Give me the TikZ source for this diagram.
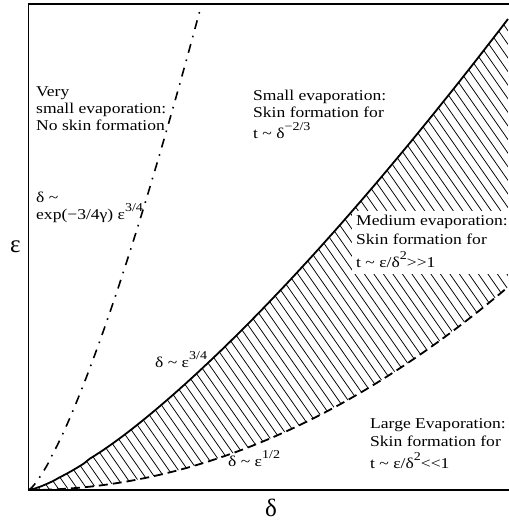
\documentclass[tikz,border=0pt]{standalone}
\usepackage{fontspec}
\setmainfont{Liberation Serif}
\usepackage{graphicx}
\newcommand\wx[1]{\scalebox{1.17}[1]{#1}}
\newcommand\sps[1]{\raisebox{0.55em}{\fontsize{12}{12}\selectfont #1}}
\begin{document}
\begin{tikzpicture}[x=1pt,y=1pt,
  lab/.style={anchor=base west, inner sep=0pt, font=\fontsize{15}{17}\selectfont},
  axlab/.style={anchor=base west, inner sep=0pt, font=\fontsize{25}{27}\selectfont},
  curve/.style={line width=1.8pt},
  hatchline/.style={line width=0.75pt}]
\useasboundingbox (0,0) rectangle (508,524);
% hatched band
\begin{scope}
\clip plot[domain=0.5:479.5, samples=80] ({28.5+\x},{34+471*(\x/479.5)^(4/3)})
  -- (508,237)
  -- plot[domain=479.5:0.5, samples=80] ({28.5+\x},{34+203*(\x/479.5)^2}) -- cycle;
\foreach \c in {-340,-330.5,...,510} \draw[hatchline] (\c,524) -- ++(366,-524);
\end{scope}
\fill[white] (352,250) rectangle (510,313);
% curves
\draw[curve] plot[domain=0.5:479.5, samples=80] ({28.5+\x},{34+471*(\x/479.5)^(4/3)});
\draw[curve, dash pattern=on 9pt off 5pt] plot[domain=0.5:479.5, samples=80] ({28.5+\x},{34+203*(\x/479.5)^2});
\draw[curve, line width=1.6pt, dash pattern=on 9pt off 7pt on 1.6pt off 7pt] plot[domain=0.5:171.5, samples=60] ({28.5+\x},{34+480*(\x/171.5)^(4/3)});
% frame
\draw[line width=1.8pt] (512,520) -- (28.5,520) -- (28.5,34) -- (512,34);
% labels
\node[lab] (v1) at (36,427) {\wx{Very}};
\node[lab] (v2) at (36,410) {\wx{small evaporation:}};
\node[lab] (v3) at (36,393) {\wx{No skin formation}};
\node[lab] (d1) at (36,321) {\wx{δ \textasciitilde}};
\node[lab] (d2) at (36,304) {\wx{exp(−3/4γ) ε\sps{3/4}}};
\node[lab] (s1) at (253,423) {\wx{Small evaporation:}};
\node[lab] (s2) at (253,406) {\wx{Skin formation for}};
\node[lab] (s3) at (253,385) {\wx{t \textasciitilde{} δ\sps{−2/3}}};
\node[lab] (m1) at (356,298) {\wx{Medium evaporation:}};
\node[lab] (m2) at (356,279) {\wx{Skin formation for}};
\node[lab] (m3) at (356,256) {\wx{t \textasciitilde{} ε/δ\sps{2}>\kern0pt>1}};
\node[lab] (l1) at (370,95) {\wx{Large Evaporation:}};
\node[lab] (l2) at (370,77) {\wx{Skin formation for}};
\node[lab] (l3) at (370,55) {\wx{t \textasciitilde{} ε/δ\sps{2}<\kern0pt<1}};
\node[lab] (c1) at (155,156) {\wx{δ \textasciitilde{} ε\sps{3/4}}};
\node[lab] (c2) at (228,57) {\wx{δ \textasciitilde{} ε\sps{1/2}}};
\node[axlab] (ey) at (10,271) {ε};
\node[axlab] (dx) at (265,7) {δ};
\end{tikzpicture}
\end{document}
